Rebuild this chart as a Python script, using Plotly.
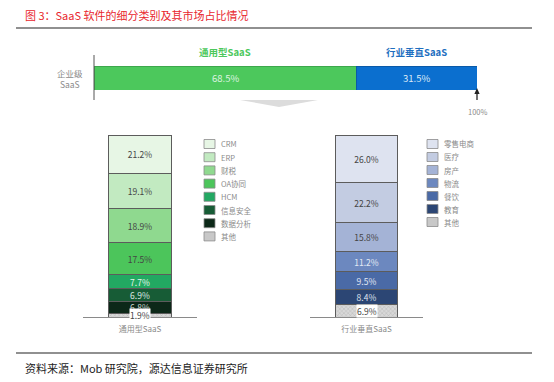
import plotly.graph_objects as go

W, H = 554, 382


def px(x):
    return x / W


def py(y):
    return 1 - y / H


FONT = "Noto Sans CJK SC, Noto Sans, sans-serif"

# ---------------- data ----------------
title_text = "图 3：SaaS 软件的细分类别及其市场占比情况"
source_text = "资料来源：Mob 研究院，源达信息证券研究所"

top_row_label = "企业级<br>SaaS"
top_cats = ["通用型SaaS", "行业垂直SaaS"]
top_vals = [68.5, 31.5]

gen_name = "通用型SaaS"
gen_cats = ["CRM", "ERP", "财税", "OA协同", "HCM", "信息安全", "数据分析", "其他"]
gen_vals = [21.2, 19.1, 18.9, 17.5, 7.7, 6.9, 6.8, 1.9]

ver_name = "行业垂直SaaS"
ver_cats = ["零售电商", "医疗", "房产", "物流", "餐饮", "教育", "其他"]
ver_vals = [26.0, 22.2, 15.8, 11.2, 9.5, 8.4, 6.9]

# ---------------- styles ----------------
top_colors = ["#4cc85c", "#0b6fcf"]
top_edge_colors = ["#3a9f48", "#0a559e"]
top_label_colors = ["#4cc85c", "#1f6fc0"]
top_text_colors = ["#def4e0", "#dce9f7"]

gen_colors = ["#e7f6e5", "#c2eac1", "#8fd98f", "#4cc55b", "#22a862",
              "#175c36", "#0c2818", "#d4d4d4"]
gen_text_colors = ["#444", "#444", "#444", "#444", "#e6f6ea",
                   "#dfe8e2", "#cfd8d2", "#444"]
ver_colors = ["#dee3f0", "#c3cce2", "#a4b3d6", "#6c88bf", "#4a6aa6",
              "#2c4674", "#d4d4d4"]
ver_text_colors = ["#444", "#444", "#444", "#e2e8f4", "#e2e8f4",
                   "#dde3ee", "#444"]

# top bar placement (pixels)
TOP_X0, TOP_X1 = 94, 477

fig = go.Figure()

# top horizontal stacked bar
for c, v, col, ecol in zip(top_cats, top_vals, top_colors, top_edge_colors):
    fig.add_trace(go.Bar(
        y=["row"], x=[v], orientation="h", name=c, marker_color=col,
        marker_line=dict(color=ecol, width=0.8), width=1, showlegend=False,
        xaxis="x", yaxis="y", hoverinfo="skip",
    ))


def add_stack(cats, vals, colors, tcolors, name, xa, ya):
    # first trace is at the bottom of the stack
    for c, v, col, tcol in reversed(list(zip(cats, vals, colors, tcolors))):
        is_other = c == "其他"
        fig.add_trace(go.Bar(
            x=[name], y=[v], name=c, width=0.553,
            marker=dict(
                color=col, line=dict(color="#5c5c5c", width=1),
                pattern=dict(shape="x", size=3, solidity=0.25,
                             fgcolor="#8a8a8a", bgcolor="#d8d8d8") if is_other else None,
            ),
            text=[] if is_other else [f"{v:.1f}%"],
            textposition="none" if is_other else "inside",
            insidetextanchor="middle", textangle=0,
            textfont=dict(size=8.5, color=tcol, family=FONT),
            showlegend=False, xaxis=xa, yaxis=ya, hoverinfo="skip",
        ))
        if is_other:
            fig.add_annotation(
                x=name, y=v / 2, xref=xa, yref=ya, text=f"{v:.1f}%",
                showarrow=False, bgcolor="white", borderpad=0,
                xanchor="center", yanchor="middle",
                font=dict(size=8.5, color="#444", family=FONT),
            )


add_stack(gen_cats, gen_vals, gen_colors, gen_text_colors, gen_name, "x2", "y2")
add_stack(ver_cats, ver_vals, ver_colors, ver_text_colors, ver_name, "x3", "y3")

fig.update_layout(
    width=W, height=H, margin=dict(l=0, r=0, t=0, b=0),
    paper_bgcolor="white", plot_bgcolor="rgba(0,0,0,0)",
    barmode="stack", font=dict(family=FONT),
    uniformtext=dict(minsize=8.5, mode="show"),
    xaxis=dict(domain=[px(TOP_X0), px(TOP_X1)], range=[0, sum(top_vals)],
               visible=False, fixedrange=True),
    yaxis=dict(domain=[py(90), py(66)], range=[-0.5, 0.5], visible=False),
    xaxis2=dict(domain=[px(83), px(197)], range=[-0.5, 0.5], anchor="y2",
                showline=True, linecolor="#8a8a8a", linewidth=1, ticks="",
                showgrid=False, zeroline=False,
                tickfont=dict(size=8, color="#8a8a8a", family=FONT),
                ticklabelstandoff=4),
    yaxis2=dict(domain=[py(317), py(135)], range=[0, 100], visible=False, anchor="x2"),
    xaxis3=dict(domain=[px(310), px(423)], range=[-0.5, 0.5], anchor="y3",
                showline=True, linecolor="#8a8a8a", linewidth=1, ticks="",
                showgrid=False, zeroline=False,
                tickfont=dict(size=8, color="#8a8a8a", family=FONT),
                ticklabelstandoff=4),
    yaxis3=dict(domain=[py(317), py(135)], range=[0, 100], visible=False, anchor="x3"),
)

shapes = []
ann = []

# title & source
ann.append(dict(x=px(23), y=py(15), xref="paper", yref="paper", text=title_text,
                showarrow=False, xanchor="left", yanchor="middle",
                font=dict(size=11, color="#e8262d", family=FONT)))
ann.append(dict(x=px(23), y=py(368), xref="paper", yref="paper", text=source_text,
                showarrow=False, xanchor="left", yanchor="middle",
                font=dict(size=11, color="#222", family=FONT)))
shapes.append(dict(type="line", xref="paper", yref="paper", x0=px(16), x1=px(532),
                   y0=py(28), y1=py(28), line=dict(color="#222", width=1.2)))
shapes.append(dict(type="line", xref="paper", yref="paper", x0=px(16), x1=px(532),
                   y0=py(353), y1=py(353), line=dict(color="#222", width=1.2)))

# top bar decorations
cum = 0
for c, v, lc, tc in zip(top_cats, top_vals, top_label_colors, top_text_colors):
    ann.append(dict(x=cum + v / 2, y=py(52), xref="x", yref="paper", text=f"<b>{c}</b>",
                    showarrow=False, xanchor="center", yanchor="middle",
                    font=dict(size=9.5, color=lc, family=FONT)))
    ann.append(dict(x=cum + v / 2, y="row", xref="x", yref="y", text=f"{v:.1f}%",
                    showarrow=False, xanchor="center", yanchor="middle",
                    font=dict(size=9.5, color=tc, family=FONT)))
    cum += v
ann.append(dict(x=px(70), y=py(78), xref="paper", yref="paper", text=top_row_label,
                showarrow=False, align="center", xanchor="center", yanchor="middle",
                font=dict(size=8.5, color="#8a8a8a", family=FONT)))
shapes.append(dict(type="line", xref="paper", yref="paper", x0=px(TOP_X0), x1=px(TOP_X0),
                   y0=py(55), y1=py(100), line=dict(color="#555", width=1)))

# up arrow marking 100% (right end of the top bar)
ax_ = TOP_X1
shapes.append(dict(type="line", xref="paper", yref="paper", x0=px(ax_), x1=px(ax_),
                   y0=py(100), y1=py(92), line=dict(color="#222", width=1.3)))
shapes.append(dict(type="path", xref="paper", yref="paper",
                   path=(f"M {px(ax_ - 2.6)},{py(94)} L {px(ax_ + 2.6)},{py(94)} "
                         f"L {px(ax_)},{py(88)} Z"),
                   fillcolor="#222", line=dict(width=0)))
ann.append(dict(x=px(ax_), y=py(112), xref="paper", yref="paper",
                text=f"{sum(top_vals):.0f}%",
                showarrow=False, xanchor="center", yanchor="middle",
                font=dict(size=7.5, color="#8a8a8a", family=FONT)))
# down chevron
shapes.append(dict(type="path", xref="paper", yref="paper",
                   path=f"M {px(240)},{py(100)} L {px(318)},{py(100)} L {px(279)},{py(107)} Z",
                   fillcolor="#dcdcdc", line=dict(width=0)))


def add_legend(cats, colors, x0, y0, step):
    for i, (c, col) in enumerate(zip(cats, colors)):
        yc = y0 + step * i
        shapes.append(dict(type="rect", xref="paper", yref="paper",
                           x0=px(x0), x1=px(x0 + 11), y0=py(yc - 4.5), y1=py(yc + 4.5),
                           fillcolor=("#c8c8c8" if c == "其他" else col),
                           line=dict(color="#8a8a8a", width=0.8)))
        ann.append(dict(x=px(x0 + 15), y=py(yc), xref="paper", yref="paper", text=c,
                        showarrow=False, xanchor="left", yanchor="middle",
                        font=dict(size=7.5, color="#8a8a8a", family=FONT)))


add_legend(gen_cats, gen_colors, 204, 144, 13.2)
add_legend(ver_cats, ver_colors, 427, 144, 13.0)

fig.update_layout(shapes=shapes, annotations=list(fig.layout.annotations) + ann)

fig.write_html("out.html", config={"displayModeBar": False})

# remove the default browser body margin so the figure sits at the page origin
with open("out.html", encoding="utf-8") as f:
    html = f.read()
html = html.replace("<head>", "<head><style>html,body{margin:0;padding:0;}</style>", 1)
with open("out.html", "w", encoding="utf-8") as f:
    f.write(html)
